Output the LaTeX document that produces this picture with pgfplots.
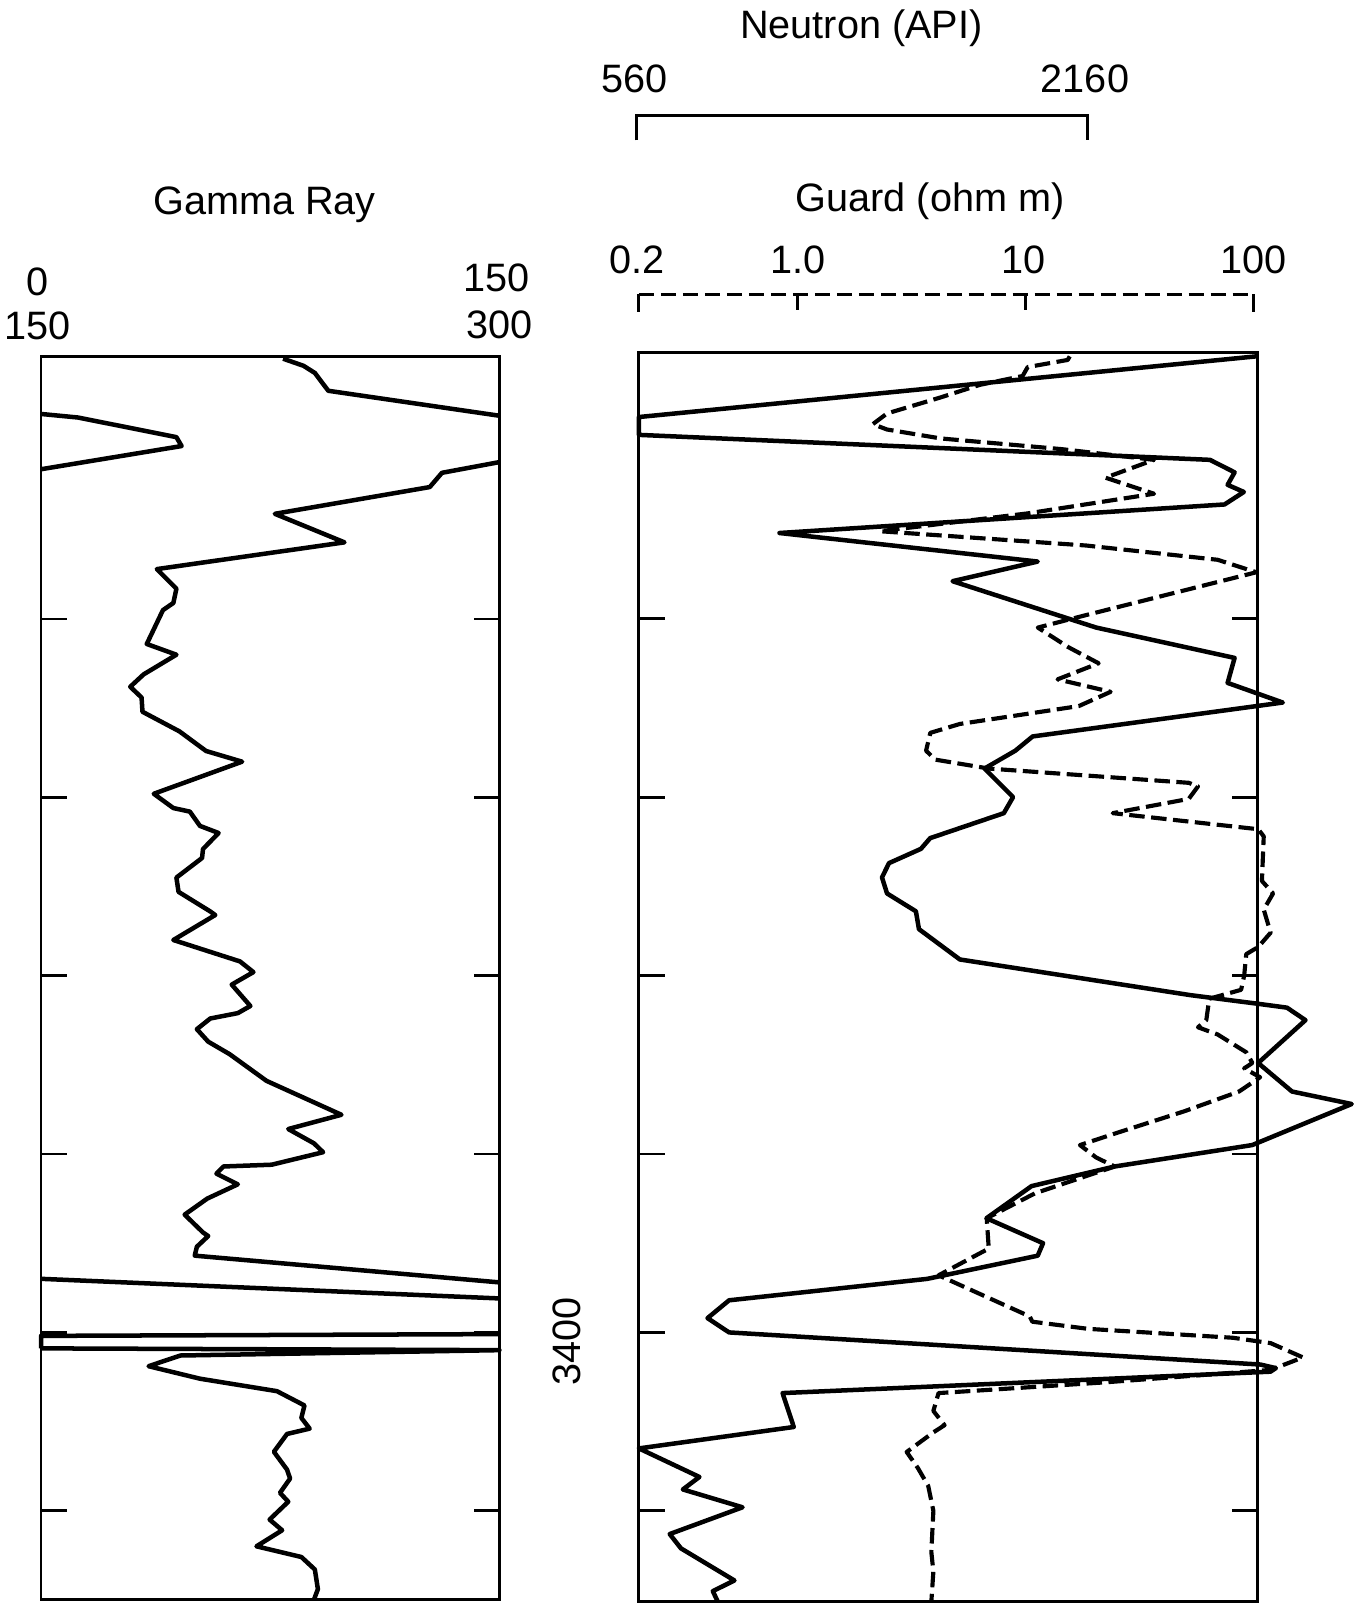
\documentclass[border=0pt]{standalone}
\usepackage{fontspec}
\setmainfont{Liberation Sans}
\usepackage{pgfplots}
\pgfplotsset{compat=1.18}
\pgfplotsset{
  track/.style={scale only axis, anchor=south west, y dir=reverse, clip=false,
    axis line style={line width=0.8pt}, xtick=\empty,
    ytick={3360,3370,...,3410}, yticklabels={,,,,,},
    major tick length=0.25cm, tick style={line width=0.8pt, black}},
  over/.style={scale only axis, anchor=south west, y dir=reverse, hide axis, clip=false},
  curve/.style={black, line width=1.25pt, line join=round, no markers},
  dcurve/.style={black, line width=1.15pt, line join=round, no markers,
    dash pattern=on 4.3pt off 1.8pt},
}
\begin{document}
\begin{tikzpicture}[font=\fontsize{11}{13}\selectfont]
\useasboundingbox (0,0) rectangle (13.29,15.68);

% ---------- Gamma Ray track ----------
\begin{axis}[track, at={(0.40cm,0.08cm)}, width=4.47cm, height=12.12cm,
  xmin=0, xmax=150, ymin=3345.3, ymax=3415.0]
\addplot[curve] coordinates {(79.2,3345.4) (85.9,3345.8) (89.6,3346.2) (94.0,3347.2) (150,3348.6)};
\addplot[curve] coordinates {(150,3351.2) (131.2,3351.8) (127.2,3352.6) (76.5,3354.1) (99.3,3355.7)
 (37.9,3357.2) (44.3,3358.3) (43.3,3359.1) (39.9,3359.5) (34.6,3361.4) (44.3,3362.0) (33.6,3363.1)
 (29.2,3363.8) (32.9,3364.4) (33.2,3365.2) (45.3,3366.3) (54.0,3367.4) (65.8,3368.0) (36.9,3369.8)
 (43.3,3370.6) (48.7,3370.8) (52.0,3371.6) (58.1,3372.0) (53.0,3372.9) (52.7,3373.4) (44.3,3374.5)
 (45.0,3375.3) (55.4,3376.4) (57.0,3376.6) (43.3,3378.0) (65.1,3379.2) (69.5,3379.8) (62.4,3380.5)
 (68.5,3381.7) (64.4,3382.1) (55.4,3382.4) (51.0,3383.0) (54.7,3383.7) (61.7,3384.4) (73.8,3385.9)
 (98.3,3387.8) (80.9,3388.6) (89.3,3389.4) (92.3,3389.9) (75.5,3390.6) (59.7,3390.7) (57.4,3391.1)
 (64.4,3391.7) (54.4,3392.5) (47.0,3393.4) (53.0,3394.4) (54.7,3394.6) (51.0,3395.2) (50.3,3395.7)
 (150,3397.2)};
\addplot[curve] coordinates {(0,3400.9) (150,3401.0) (45.6,3401.3) (35.2,3401.9) (52.0,3402.6)
 (77.2,3403.3) (86.2,3404.1) (85.2,3404.8) (87.9,3405.4) (80.5,3405.7) (76.2,3406.7) (80.5,3407.7)
 (81.5,3408.2) (78.2,3409.0) (80.9,3409.5) (74.8,3410.5) (78.9,3411.1) (70.5,3412.0) (85.2,3412.6)
 (89.6,3413.3) (90.6,3414.4) (89.3,3415.0)};
\end{axis}
% back-up scale 150-300
\begin{axis}[over, at={(0.40cm,0.08cm)}, width=4.47cm, height=12.12cm,
  xmin=150, xmax=300, ymin=3345.3, ymax=3415.0]
\addplot[curve] coordinates {(150,3348.5) (162.1,3348.7) (194.3,3349.8) (196.0,3350.3) (150,3351.6)};
\addplot[curve] coordinates {(150,3397.0) (300,3398.1)};
\addplot[curve] coordinates {(300,3400.1) (150,3400.2) (150,3400.9)};
\end{axis}

% ---------- Neutron / Guard track ----------
\begin{axis}[track, at={(6.23cm,0.06cm)}, width=6.03cm, height=12.18cm,
  xmin=560, xmax=2768, ymin=3345.1, ymax=3415.1]
\addplot[curve] coordinates {(2764,3345.3) (560,3348.7) (560,3349.7) (2599,3351.1) (2687,3351.8)
 (2662,3352.5) (2720,3352.9) (2651,3353.6) (1062,3355.2) (1984,3356.8) (1680,3357.9) (2193,3360.5)
 (2687,3362.2) (2662,3363.6) (2859,3364.7) (1966,3366.6) (1904,3367.4) (1794,3368.4) (1896,3370.0)
 (1863,3370.9) (1600,3372.3) (1567,3372.9) (1453,3373.7) (1428,3374.5) (1446,3375.4) (1549,3376.4)
 (1560,3377.4) (1706,3379.1) (2530,3381.1) (2779,3381.6) (2874,3381.8) (2940,3382.5) (2771,3384.9)
 (2892,3386.5) (3105,3387.2) (2750,3389.5) (2259,3390.7) (1962,3391.8) (1801,3393.6) (2003,3395.0)
 (1984,3395.7) (1589,3397.0) (882,3398.2) (805,3399.2) (882,3400.0) (2779,3401.8) (2834,3402.0)
 (2815,3402.2) (1073,3403.4) (1113,3405.3) (560,3406.5) (776,3408.1) (717,3408.8) (930,3409.8)
 (670,3411.3) (710,3412.1) (901,3413.9) (824,3414.5) (842,3415.1)};
\node[rotate=90] at ([xshift=-0.70cm]axis cs:560,3400.5) {3400};
\end{axis}
\begin{axis}[over, xmode=log, at={(6.23cm,0.06cm)}, width=6.03cm, height=12.18cm,
  xmin=0.2, xmax=104, ymin=3345.1, ymax=3415.1]
\addplot[dcurve] coordinates {(15.6,3345.3) (15.3,3345.5) (10.2,3345.9) (9.69,3346.4) (6.27,3346.9)
 (4.23,3347.6) (2.46,3348.5) (2.13,3349.1) (2.46,3349.4) (4.23,3349.9) (14.4,3350.5) (36.6,3351.1)
 (22.4,3352.1) (36.6,3353.0) (10.2,3354.1) (2.29,3355.1) (18.4,3355.9) (69.6,3356.7) (103,3357.4)
 (18.4,3359.8) (11.3,3360.5) (15.4,3361.6) (20.9,3362.5) (13.8,3363.4) (23.6,3364.1) (17.1,3364.9)
 (5.14,3365.9) (3.81,3366.4) (3.65,3367.4) (4.01,3367.9) (6.88,3368.4) (52.0,3369.2) (57.1,3369.4)
 (52.0,3370.1) (24.1,3370.9) (105,3371.8) (111,3372.2) (109,3374.7) (122,3375.4) (111,3376.3)
 (119,3377.6) (105,3378.4) (93.0,3378.8) (91.1,3380.0) (88.3,3380.8) (64.0,3381.3) (62.1,3382.5)
 (57.1,3382.9) (69.6,3383.3) (93.0,3384.3) (99.0,3384.9) (91.1,3385.2) (107,3385.7) (86.5,3386.5)
 (49.9,3387.6) (25.4,3388.8) (17.3,3389.5) (20.4,3390.2) (24.6,3390.7) (11.0,3392.2) (6.74,3393.6)
 (6.88,3395.3) (4.14,3396.8) (10.4,3399.1) (10.7,3399.4) (18.8,3399.8) (81.3,3400.3) (119,3400.6)
 (165,3401.4) (119,3402.1) (22.2,3402.8) (4.14,3403.4) (3.93,3404.4) (4.40,3405.2) (3.93,3405.6)
 (3.00,3406.7) (3.36,3407.6) (3.73,3408.6) (3.93,3410.0) (3.85,3412.3) (3.93,3413.4) (3.85,3415.1)};
\end{axis}

% ---------- headings and scale bars ----------
\node at (2.58,13.68) {Gamma Ray};
\node at (0.37,12.93) {0};
\node at (0.37,12.50) {150};
\node at (4.84,12.97) {150};
\node at (4.87,12.51) {300};

\node at (8.40,15.40) {Neutron (API)};
\node at (6.19,14.91) {560};
\node at (10.58,14.91) {2160};
\draw[line width=0.8pt] (6.21,14.31) -- (6.21,14.55) -- (10.60,14.55) -- (10.60,14.31);

\node at (9.07,13.72) {Guard (ohm m)};
\node at (6.21,13.15) {0.2};
\node at (7.78,13.15) {1.0};
\node at (9.98,13.15) {10};
\node at (12.22,13.15) {100};
\draw[line width=0.9pt, dash pattern=on 4.3pt off 1.8pt] (6.23,12.81) -- (12.22,12.81);
\draw[line width=0.8pt] (6.23,12.64) -- (6.23,12.81) (12.22,12.64) -- (12.22,12.81)
  (7.78,12.66) -- (7.78,12.81) (10.00,12.66) -- (10.00,12.81);
\end{tikzpicture}
\end{document}
